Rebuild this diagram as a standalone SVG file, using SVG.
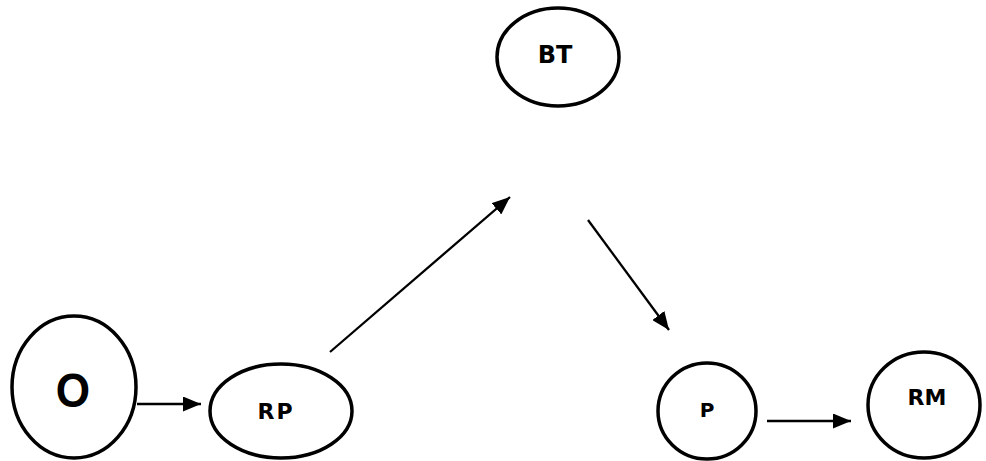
<svg xmlns="http://www.w3.org/2000/svg" width="986" height="461" viewBox="0 0 986 461">
<style>
.node{fill:#fff;stroke:#000;stroke-width:3.5}
.lbl{font-family:"DejaVu Sans",sans-serif;font-weight:bold;fill:#000;text-anchor:middle}
.edge{stroke:#000;stroke-width:2.3;fill:none}
</style>
<defs>
<marker id="ah" markerUnits="userSpaceOnUse" markerWidth="18" markerHeight="15" refX="18" refY="7.5" orient="auto">
<path d="M0,0 L18,7.5 L0,15 z" fill="#000"/>
</marker>
</defs>
<rect width="986" height="461" fill="#fff"/>
<g id="connectors">
<line class="edge" x1="137" y1="404" x2="201" y2="404" marker-end="url(#ah)"/>
<line class="edge" x1="330" y1="352" x2="510" y2="197" marker-end="url(#ah)"/>
<line class="edge" x1="588" y1="220" x2="669" y2="330" marker-end="url(#ah)"/>
<line class="edge" x1="767" y1="421" x2="851" y2="421" marker-end="url(#ah)"/>
</g>
<g id="node-O">
<ellipse class="node" cx="74" cy="387" rx="62" ry="71"/>
<text x="73" y="407" font-size="48" font-family="'Liberation Sans',sans-serif" font-weight="bold" text-anchor="middle" transform="translate(73 0) scale(0.92 1) translate(-73 0)">O</text>
</g>
<g id="node-RP">
<ellipse class="node" cx="281" cy="411" rx="71" ry="47" stroke-width="4.5"/>
<text class="lbl" x="276" y="419" font-size="22" letter-spacing="2">RP</text>
</g>
<g id="node-BT">
<ellipse class="node" cx="558" cy="57" rx="61" ry="49"/>
<text class="lbl" x="555" y="63" font-size="24">BT</text>
</g>
<g id="node-P">
<ellipse class="node" cx="707" cy="411" rx="49" ry="48"/>
<text class="lbl" x="707" y="417" font-size="20">P</text>
</g>
<g id="node-RM">
<ellipse class="node" cx="924" cy="405" rx="56" ry="53"/>
<text class="lbl" x="927" y="405" font-size="22">RM</text>
</g>
</svg>
